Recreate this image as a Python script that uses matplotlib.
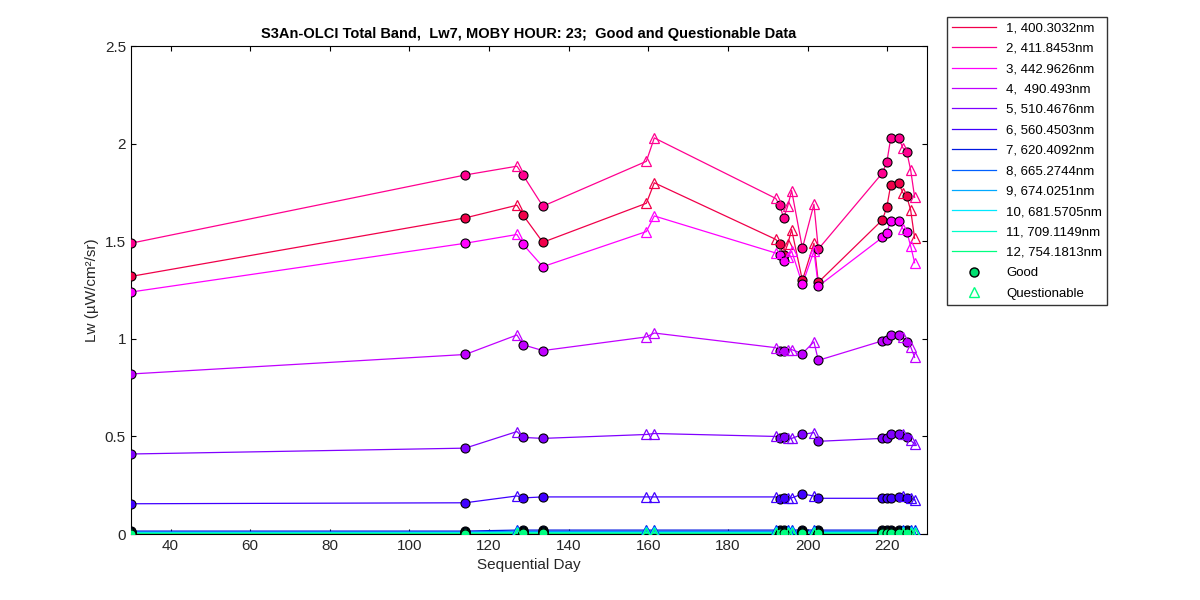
import matplotlib
matplotlib.use("Agg")
import matplotlib.pyplot as plt
from matplotlib.lines import Line2D

plt.rcParams["font.family"] = "Liberation Sans"

days = [30, 114, 127, 128.5, 133.5, 159.5, 161.5, 192, 193, 194, 195, 196, 198.7, 201.6, 202.7,
        218.8, 219.9, 220.9, 222.9, 223.9, 224.9, 225.9, 226.9]
flags = ["G", "G", "Q", "G", "G", "Q", "Q", "Q", "G", "G", "Q", "Q", "G", "Q", "G",
         "G", "G", "G", "G", "Q", "G", "Q", "Q"]

band1 = [1.32, 1.62, 1.685, 1.635, 1.495, 1.695, 1.80, 1.51, 1.485, 1.43, 1.485, 1.56, 1.30, 1.49, 1.29,
         1.61, 1.675, 1.79, 1.80, 1.75, 1.73, 1.66, 1.515]
band2 = [1.49, 1.84, 1.885, 1.84, 1.68, 1.91, 2.03, 1.72, 1.685, 1.62, 1.68, 1.76, 1.465, 1.69, 1.46,
         1.85, 1.905, 2.03, 2.03, 1.98, 1.96, 1.865, 1.725]
band3 = [1.24, 1.49, 1.535, 1.485, 1.37, 1.55, 1.63, 1.44, 1.43, 1.40, 1.42, 1.45, 1.28, 1.45, 1.27,
         1.52, 1.545, 1.605, 1.605, 1.565, 1.55, 1.475, 1.39]
band4 = [0.82, 0.92, 1.02, 0.97, 0.94, 1.01, 1.03, 0.955, 0.94, 0.94, 0.945, 0.945, 0.925, 0.985, 0.89,
         0.99, 0.995, 1.02, 1.02, 1.01, 0.985, 0.96, 0.905]
band5 = [0.41, 0.44, 0.525, 0.495, 0.49, 0.51, 0.515, 0.50, 0.49, 0.495, 0.49, 0.49, 0.51, 0.52, 0.475,
         0.49, 0.49, 0.51, 0.51, 0.51, 0.495, 0.48, 0.46]
band6 = [0.155, 0.16, 0.195, 0.185, 0.19, 0.19, 0.19, 0.19, 0.18, 0.185, 0.185, 0.185, 0.205, 0.195, 0.183,
         0.183, 0.183, 0.187, 0.19, 0.195, 0.185, 0.183, 0.175]
band7 = [0.015, 0.015, 0.02, 0.02, 0.02, 0.02, 0.02, 0.02, 0.02, 0.02, 0.02, 0.02, 0.021, 0.02, 0.02,
         0.02, 0.02, 0.02, 0.02, 0.02, 0.02, 0.02, 0.019]
band8 = [0.01, 0.01, 0.014, 0.013, 0.013, 0.013, 0.013, 0.013, 0.013, 0.013, 0.013, 0.013, 0.014, 0.013, 0.013,
         0.013, 0.013, 0.013, 0.013, 0.013, 0.013, 0.013, 0.012]
band9 = [0.008, 0.008, 0.011, 0.01, 0.01, 0.01, 0.01, 0.01, 0.01, 0.01, 0.01, 0.01, 0.011, 0.01, 0.01,
         0.01, 0.01, 0.01, 0.01, 0.01, 0.01, 0.01, 0.01]
band10 = [0.006, 0.006, 0.009, 0.008, 0.008, 0.008, 0.008, 0.008, 0.008, 0.008, 0.008, 0.008, 0.009, 0.008, 0.008,
          0.008, 0.008, 0.008, 0.008, 0.008, 0.008, 0.008, 0.008]
band11 = [0.004, 0.004, 0.006, 0.005, 0.005, 0.005, 0.005, 0.005, 0.005, 0.005, 0.005, 0.005, 0.006, 0.005, 0.005,
          0.005, 0.005, 0.005, 0.005, 0.005, 0.005, 0.005, 0.005]
band12 = [0.002, 0.002, 0.003, 0.003, 0.003, 0.003, 0.003, 0.003, 0.003, 0.003, 0.003, 0.003, 0.003, 0.003, 0.003,
          0.003, 0.003, 0.003, 0.003, 0.003, 0.003, 0.003, 0.003]

labels = ["1, 400.3032nm", "2, 411.8453nm", "3, 442.9626nm", "4,  490.493nm", "5, 510.4676nm",
          "6, 560.4503nm", "7, 620.4092nm", "8, 665.2744nm", "9, 674.0251nm", "10, 681.5705nm",
          "11, 709.1149nm", "12, 754.1813nm"]
colors = ["#f0004a", "#ff0090", "#ff00ff", "#c000ff", "#8000ff", "#4000ff", "#0018e0",
          "#0060ff", "#00a8ff", "#00e8ff", "#00ffc8", "#00ff80"]
series = [band1, band2, band3, band4, band5, band6, band7, band8, band9, band10, band11, band12]

fig = plt.figure(figsize=(12, 6), dpi=100)
ax = fig.add_axes([0.109, 0.11, 0.6635, 0.813])

for vals, c in zip(series, colors):
    ax.plot(days, vals, color=c, lw=0.9)
handles = []
for vals, c, lab in zip(series, colors, labels):
    gx = [d for d, f in zip(days, flags) if f == "G"]
    gy = [v for v, f in zip(vals, flags) if f == "G"]
    qx = [d for d, f in zip(days, flags) if f == "Q"]
    qy = [v for v, f in zip(vals, flags) if f == "Q"]
    ax.plot(gx, gy, "o", ms=6.5, mfc=c, mec="black", mew=0.8, zorder=3)
    ax.plot(qx, qy, "^", ms=7.5, mfc="none", mec=c, mew=0.9, zorder=3)
    handles.append(Line2D([], [], color=c, lw=0.9, label=lab))
handles.append(Line2D([], [], ls="none", marker="o", ms=6.5, mfc="#00e070", mec="black", label="Good"))
handles.append(Line2D([], [], ls="none", marker="^", ms=7.5, mfc="none", mec="#00ff80", label="Questionable"))

ax.set_xlim(30, 230)
ax.set_ylim(0, 2.5)
ax.set_xticks(range(40, 221, 20))
ax.set_yticks([0, 0.5, 1, 1.5, 2, 2.5])
ax.set_yticklabels(["0", "0.5", "1", "1.5", "2", "2.5"])
ax.tick_params(direction="in", labelsize=11, top=True, right=True, labelcolor="#262626")
ax.set_xlabel("Sequential Day", fontsize=11, color="#262626")
ax.set_ylabel("Lw (µW/cm²/sr)", fontsize=11, color="#262626")
ax.set_title("S3An-OLCI Total Band,  Lw7, MOBY HOUR: 23;  Good and Questionable Data",
             fontsize=10.5, fontweight="bold")
fig.legend(handles=handles, loc="upper left", bbox_to_anchor=(0.789, 0.972), fontsize=9.5,
           frameon=True, fancybox=False, edgecolor="black", handlelength=3.3, labelspacing=0.62,
           borderaxespad=0)
fig.savefig("out.png", dpi=100)
